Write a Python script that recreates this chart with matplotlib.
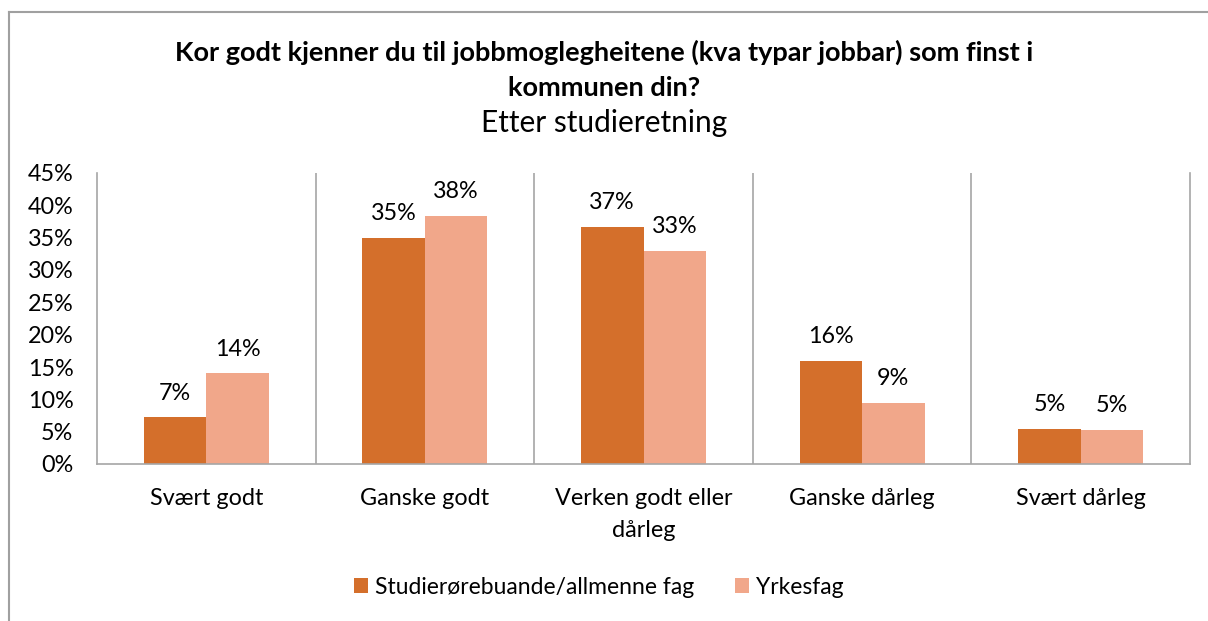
import matplotlib
matplotlib.use("Agg")
import matplotlib.pyplot as plt
from matplotlib.lines import Line2D
import numpy as np

plt.rcParams['font.family'] = ['Lato', 'DejaVu Sans']

categories = ["Svært godt", "Ganske godt", "Verken godt eller\ndårleg", "Ganske dårleg", "Svært dårleg"]
series_names = ["Studierørebuande/allmenne fag", "Yrkesfag"]
studie = [7.2, 34.9, 36.6, 15.9, 5.4]
yrkes = [14.0, 38.4, 32.9, 9.4, 5.3]
y_ticks = [0, 5, 10, 15, 20, 25, 30, 35, 40, 45]

c_dark = "#D46F2B"
c_light = "#F1A78A"
fs = 16.8

fig = plt.figure(figsize=(12.08, 6.21), dpi=100)
ax = fig.add_axes([97/1208, 1 - 464/621, (1190 - 97)/1208, (464 - 173)/621])

x = np.arange(len(categories))
w = 0.286
b1 = ax.bar(x - w/2, studie, w, color=c_dark, label=series_names[0])
b2 = ax.bar(x + w/2, yrkes, w, color=c_light, label=series_names[1])

for bars, vals in ((b1, studie), (b2, yrkes)):
    for r, v in zip(bars, vals):
        ax.annotate(f"{v:.0f}%", (r.get_x() + r.get_width()/2, v),
                    xytext=(0, 10), textcoords="offset points",
                    ha="center", va="bottom", fontsize=fs, color="#000000")

ax.set_xlim(-0.5, len(categories) - 0.5)
ax.set_ylim(0, 45)
ax.set_yticks(y_ticks)
ax.set_yticklabels([f"{t}%" for t in y_ticks], fontsize=fs)
ax.set_xticks(x)
ax.set_xticklabels(categories, fontsize=fs, linespacing=1.65)
ax.tick_params(axis='both', length=0)
ax.tick_params(axis='y', pad=17)
ax.tick_params(axis='x', pad=17)

# category separators
for b in np.arange(0.5, len(categories) - 0.5, 1):
    ax.axvline(b, color="#A6A6A6", lw=1.2, zorder=0)

ax.spines["top"].set_visible(False)
for s in ("left", "right", "bottom"):
    ax.spines[s].set_color("#A6A6A6")
    ax.spines[s].set_linewidth(1.2)

fig.text(0.5, 1 - 52/621, "Kor godt kjenner du til jobbmoglegheitene (kva typar jobbar) som finst i",
         ha="center", va="center", fontsize=19.5, fontweight="bold")
fig.text(0.5, 1 - 88/621, "kommunen din?", ha="center", va="center", fontsize=19.5, fontweight="bold")
fig.text(0.5, 1 - 123/621, "Etter studieretning", ha="center", va="center", fontsize=21.5)

fig.legend(handles=[b1, b2], labels=series_names, loc="center", bbox_to_anchor=(599/1208, 1 - 587/621),
           ncol=2, frameon=False, fontsize=16.5, handlelength=0.6, handleheight=0.6,
           handletextpad=0.3, columnspacing=1.8)

# chart border
fig.add_artist(Line2D([9/1208, 1.0], [1 - 11.5/621] * 2, color="#A0A0A0", lw=1.5))
fig.add_artist(Line2D([9/1208] * 2, [0.0, 1 - 11.5/621], color="#A0A0A0", lw=1.5))

fig.savefig("out.png", dpi=100)
